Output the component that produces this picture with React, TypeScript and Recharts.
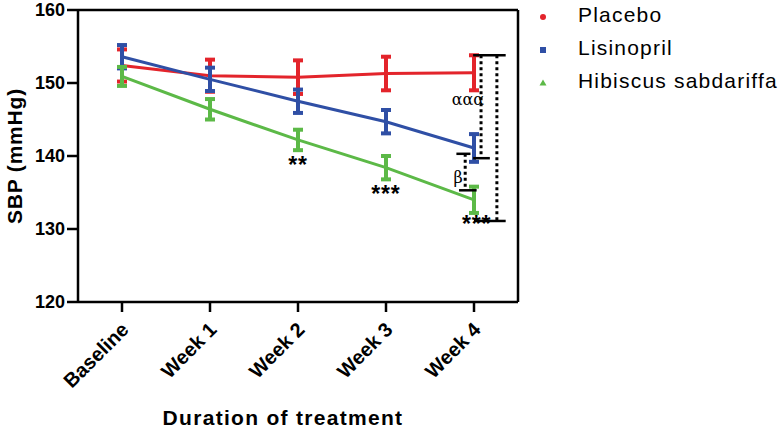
import React from 'react';
import { ComposedChart, Line, XAxis, YAxis, ErrorBar, ReferenceLine, ReferenceDot, Legend } from 'recharts';

const categories = ['Baseline', 'Week 1', 'Week 2', 'Week 3', 'Week 4'];
const placebo = [152.4, 151.0, 150.8, 151.3, 151.4];
const placeboErr = [2.2, 2.2, 2.3, 2.3, 2.4];
const lisinopril = [153.6, 150.5, 147.5, 144.7, 141.1];
const lisinoprilErr = [1.6, 1.6, 1.6, 1.6, 1.9];
const hibiscus = [150.9, 146.4, 142.2, 138.4, 134.0];
const hibiscusErr = [1.3, 1.4, 1.4, 1.6, 1.8];
const yTicks = [120, 130, 140, 150, 160];
const xTicks = [0, 1, 2, 3, 4];
const seriesNames = ['Placebo', 'Lisinopril', 'Hibiscus sabdariffa'];

// significance annotations (x = category index, y = SBP value)
const starMarks = [
  { x: 2.0, y: 139.2, text: '**' },
  { x: 3.0, y: 135.2, text: '***' },
  { x: 4.03, y: 131.1, text: '***' },
];
const greekMarks = [
  { x: 3.93, y: 147.7, text: 'ααα' },
  { x: 3.82, y: 137.1, text: 'β' },
];
const solidBrackets = [
  [{ x: 3.99, y: 153.8 }, { x: 4.36, y: 153.8 }],
  [{ x: 4.0, y: 131.1 }, { x: 4.36, y: 131.1 }],
  [{ x: 3.99, y: 139.7 }, { x: 4.18, y: 139.7 }],
  [{ x: 3.8, y: 140.3 }, { x: 3.96, y: 140.3 }],
  [{ x: 3.83, y: 135.3 }, { x: 4.03, y: 135.3 }],
];
const dottedBrackets = [
  [{ x: 4.26, y: 153.8 }, { x: 4.26, y: 131.1 }],
  [{ x: 4.08, y: 153.8 }, { x: 4.08, y: 139.7 }],
  [{ x: 3.9, y: 140.3 }, { x: 3.9, y: 135.3 }],
];

const RED = '#e3242b';
const BLUE = '#2f4fa5';
const GREEN = '#5cb947';
const FONT = '"Liberation Sans", Arial, sans-serif';

const data = categories.map((c, i) => ({
  idx: i,
  name: c,
  placebo: placebo[i],
  placeboErr: placeboErr[i],
  lisinopril: lisinopril[i],
  lisinoprilErr: lisinoprilErr[i],
  hibiscus: hibiscus[i],
  hibiscusErr: hibiscusErr[i],
}));

const XTick = (props: any) => {
  const { x, y, payload } = props;
  const ax = x + 3;
  const ay = y + 12;
  return (
    <text x={ax} y={ay} transform={`rotate(-45, ${ax}, ${ay})`} textAnchor="end" dominantBaseline="central"
      fontFamily={FONT} fontWeight="bold" fontSize={20} fill="#000">{categories[payload.value]}</text>
  );
};

const YTick = (props: any) => {
  const { x, y, payload } = props;
  return (
    <text x={x} y={y} textAnchor="end" dominantBaseline="central" fontFamily={FONT} fontWeight="bold" fontSize={18} fill="#000">{payload.value}</text>
  );
};

const YLabel = (props: any) => {
  const vb = props.viewBox;
  const cx = vb.x + 14;
  const cy = vb.y + vb.height / 2;
  return (
    <text x={cx} y={cy} transform={`rotate(-90, ${cx}, ${cy})`} textAnchor="middle" dominantBaseline="central"
      fontFamily={FONT} fontWeight="bold" fontSize={21} letterSpacing={0.8} fill="#000">SBP (mmHg)</text>
  );
};

const XLabel = (props: any) => {
  const vb = props.viewBox;
  const cx = vb.x + vb.width / 2 - 15;
  const cy = vb.y + vb.height - 13;
  return (
    <text x={cx} y={cy} textAnchor="middle" dominantBaseline="central"
      fontFamily={FONT} fontWeight="bold" fontSize={21} letterSpacing={1.3} fill="#000">Duration of treatment</text>
  );
};

const markerFor = (i: number, color: string) => {
  if (i === 0) return <circle cx={8} cy={8} r={3} fill={color} />;
  if (i === 1) return <rect x={5} y={5} width={6} height={6} fill={color} />;
  return <polygon points="8,4.5 11.5,10.5 4.5,10.5" fill={color} />;
};

const LegendContent = () => {
  const colors = [RED, BLUE, GREEN];
  return (
    <div style={{ position: 'relative', width: 250 }}>
      {seriesNames.map((n, i) => (
        <div key={n} style={{ position: 'absolute', left: 0, top: i * 33.2 - 1.5, height: 33, display: 'flex', alignItems: 'center' }}>
          <svg width={16} height={16} style={{ marginLeft: 5, position: 'relative', top: 2 }}>{markerFor(i, colors[i])}</svg>
          <span style={{ marginLeft: 27, fontFamily: FONT, fontSize: 21, letterSpacing: 1.2, color: '#000', whiteSpace: 'nowrap' }}>{n}</span>
        </div>
      ))}
    </div>
  );
};

export default function App() {
  return (
    <div style={{ position: 'absolute', left: 0, top: 0, width: 781, height: 430, background: '#fff' }}>
      <ComposedChart width={781} height={430} data={data} margin={{ top: 10, right: 263, left: 0, bottom: 0 }}>
        <XAxis dataKey="idx" type="number" domain={[-0.5, 4.5]} allowDataOverflow ticks={xTicks} height={128} tick={<XTick />} tickSize={10} tickMargin={2}
          axisLine={{ stroke: '#000', strokeWidth: 2.5 }} tickLine={{ stroke: '#000', strokeWidth: 2.5 }} interval={0}
          label={<XLabel />} />
        <YAxis type="number" domain={[120, 160]} ticks={yTicks} width={78} tickSize={11} tickMargin={2} tick={<YTick />}
          axisLine={{ stroke: '#000', strokeWidth: 2.5 }} tickLine={{ stroke: '#000', strokeWidth: 2.5 }} interval={0}
          allowDataOverflow label={<YLabel />} />
        <ReferenceLine segment={[{ x: -0.5, y: 160 }, { x: 4.5, y: 160 }]} stroke="#000" strokeWidth={2.5} ifOverflow="visible" />
        <ReferenceLine segment={[{ x: 4.5, y: 160 }, { x: 4.5, y: 120 }]} stroke="#000" strokeWidth={2.5} ifOverflow="visible" />
        <Line type="linear" dataKey="placebo" name={seriesNames[0]} stroke={RED} strokeWidth={3} dot={false} isAnimationActive={false} legendType="circle">
          <ErrorBar dataKey="placeboErr" width={5} strokeWidth={4} stroke={RED} direction="y" isAnimationActive={false} />
        </Line>
        <Line type="linear" dataKey="lisinopril" name={seriesNames[1]} stroke={BLUE} strokeWidth={3} dot={false} isAnimationActive={false} legendType="square">
          <ErrorBar dataKey="lisinoprilErr" width={5} strokeWidth={4} stroke={BLUE} direction="y" isAnimationActive={false} />
        </Line>
        <Line type="linear" dataKey="hibiscus" name={seriesNames[2]} stroke={GREEN} strokeWidth={3} dot={false} isAnimationActive={false} legendType="triangle">
          <ErrorBar dataKey="hibiscusErr" width={5} strokeWidth={4} stroke={GREEN} direction="y" isAnimationActive={false} />
        </Line>
        {solidBrackets.map((seg, i) => (
          <ReferenceLine key={`s${i}`} segment={seg} stroke="#000" strokeWidth={2.5} ifOverflow="visible" />
        ))}
        {dottedBrackets.map((seg, i) => (
          <ReferenceLine key={`d${i}`} segment={seg} stroke="#000" strokeWidth={3} strokeDasharray="3 3" ifOverflow="visible" />
        ))}
        {starMarks.map((m, i) => (
          <ReferenceDot key={`st${i}`} x={m.x} y={m.y} r={0} ifOverflow="visible"
            shape={(p: any) => (
              <text x={p.cx} y={p.cy + 11} textAnchor="middle" fontFamily={FONT} fontWeight="bold" fontSize={23} letterSpacing={0.8} fill="#000">{m.text}</text>
            )} />
        ))}
        {greekMarks.map((m, i) => (
          <ReferenceDot key={`g${i}`} x={m.x} y={m.y} r={0} ifOverflow="visible"
            shape={(p: any) => (
              <text x={p.cx} y={p.cy} textAnchor="middle" dominantBaseline="central" fontFamily='"DejaVu Serif", "Liberation Serif", serif' fontSize={16} fill="#000">{m.text}</text>
            )} />
        ))}
        <Legend layout="horizontal" verticalAlign="middle" align="center" content={<LegendContent />}
          wrapperStyle={{ left: 530, top: 0, width: 250, height: 110 }} />
      </ComposedChart>
    </div>
  );
}
